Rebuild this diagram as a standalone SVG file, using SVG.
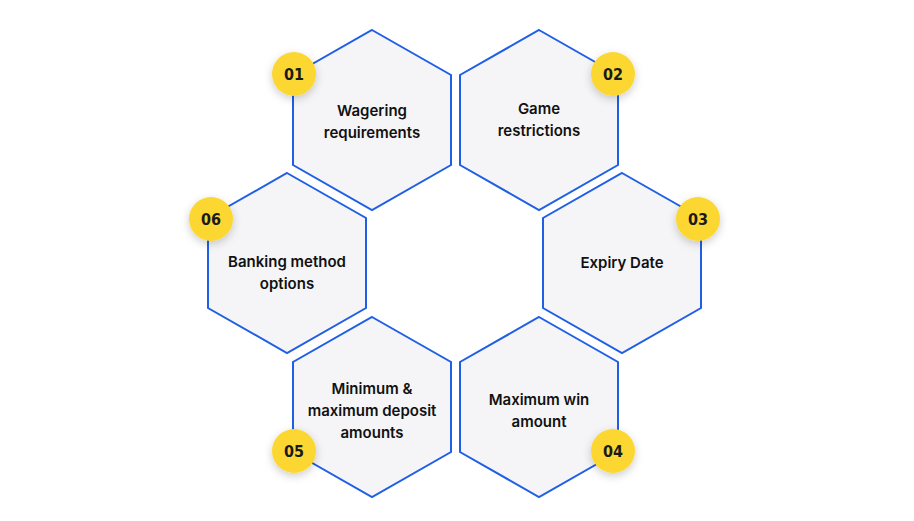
<svg xmlns="http://www.w3.org/2000/svg" width="914" height="521" viewBox="0 0 914 521">
<style>
.hex{fill:#f5f5f7;stroke:#1f5fe6;stroke-width:2}
.b{fill:#fcd733}
.t{font-family:Inter,"Liberation Sans",sans-serif;font-weight:600;font-size:15px;fill:#111;text-anchor:middle}
.n{font-family:"DejaVu Sans Condensed","Liberation Sans Narrow",sans-serif;font-weight:bold;font-size:16px;fill:#1a1a1a;text-anchor:middle}
</style>
<defs>
<polygon id="h" points="0,-90 79,-45 79,45 0,90 -79,45 -79,-45"/>
<filter id="s" x="-50%" y="-50%" width="200%" height="200%"><feDropShadow dx="0" dy="3" stdDeviation="4" flood-opacity="0.2"/></filter>
</defs>
<rect width="914" height="521" fill="#fff"/>
<g id="connectors"/>
<g id="n1"><use href="#h" class="hex" x="372" y="120"/><text class="t" x="372" y="116">Wagering</text><text class="t" x="372" y="138">requirements</text><circle class="b" cx="294" cy="74" r="22" filter="url(#s)"/><text class="n" x="294" y="80">01</text></g>
<g id="n2"><use href="#h" class="hex" x="539" y="120"/><text class="t" x="539" y="114">Game</text><text class="t" x="539" y="136">restrictions</text><circle class="b" cx="613" cy="74" r="22" filter="url(#s)"/><text class="n" x="613" y="80">02</text></g>
<g id="n3"><use href="#h" class="hex" x="622" y="263"/><text class="t" x="622" y="268">Expiry Date</text><circle class="b" cx="698" cy="219" r="22" filter="url(#s)"/><text class="n" x="698" y="225">03</text></g>
<g id="n4"><use href="#h" class="hex" x="539" y="407"/><text class="t" x="539" y="405">Maximum win</text><text class="t" x="539" y="427">amount</text><circle class="b" cx="613" cy="451" r="22" filter="url(#s)"/><text class="n" x="613" y="457">04</text></g>
<g id="n5"><use href="#h" class="hex" x="372" y="407"/><text class="t" x="372" y="394">Minimum &amp;</text><text class="t" x="372" y="416">maximum deposit</text><text class="t" x="372" y="438">amounts</text><circle class="b" cx="294" cy="451" r="22" filter="url(#s)"/><text class="n" x="294" y="457">05</text></g>
<g id="n6"><use href="#h" class="hex" x="287" y="263"/><text class="t" x="287" y="267">Banking method</text><text class="t" x="287" y="289">options</text><circle class="b" cx="211" cy="219" r="22" filter="url(#s)"/><text class="n" x="211" y="225">06</text></g>
</svg>
